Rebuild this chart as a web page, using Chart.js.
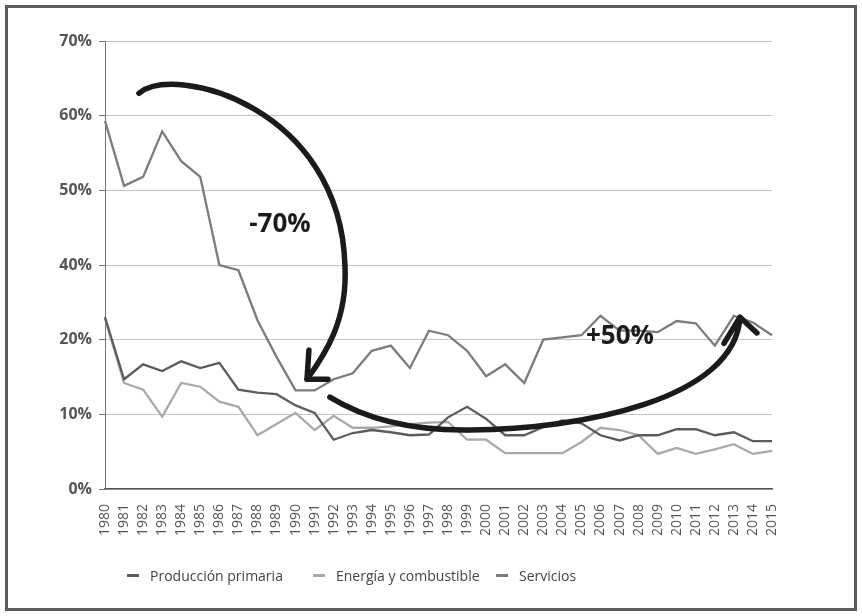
<!DOCTYPE html>
<html>
<head>
<meta charset="utf-8">
<script src="https://cdn.jsdelivr.net/npm/chart.js@4.4.1/dist/chart.umd.min.js"></script>
<style>
  html, body { margin: 0; padding: 0; background: #fff; }
  #wrap { position: relative; width: 862px; height: 616px; }
  #frame { position: absolute; left: 5px; top: 5px; width: 846px; height: 600px; border: 3px solid #5a5a5a; pointer-events: none; }
  #legend { position: absolute; left: 127px; top: 566px; display: flex; font: 14px "Open Sans", sans-serif; color: #444; }
  .item { display: flex; align-items: center; }
  .item i { display: inline-block; width: 12px; height: 3px; margin-right: 11px; }
</style>
</head>
<body>
<div id="wrap">
  <canvas id="chart" width="862" height="616"></canvas>
  <div id="frame"></div>
  <div id="legend"></div>
</div>
<script>
const years = ['1980', '1981', '1982', '1983', '1984', '1985', '1986', '1987', '1988', '1989',
  '1990', '1991', '1992', '1993', '1994', '1995', '1996', '1997', '1998', '1999',
  '2000', '2001', '2002', '2003', '2004', '2005', '2006', '2007', '2008', '2009',
  '2010', '2011', '2012', '2013', '2014', '2015'];

// valores en unidades del eje (las etiquetas impresas saltan el 30%)
const produccion = [23.0, 14.7, 16.7, 15.8, 17.1, 16.2, 16.9, 13.3, 12.9, 12.7, 11.2, 10.2,
  6.6, 7.5, 7.9, 7.6, 7.2, 7.3, 9.6, 11.0, 9.4, 7.2, 7.2, 8.3,
  9.2, 8.8, 7.2, 6.5, 7.2, 7.2, 8.0, 8.0, 7.2, 7.6, 6.4, 6.4];
const energia = [22.8, 14.2, 13.3, 9.7, 14.2, 13.7, 11.7, 11.0, 7.2, 8.7, 10.2, 7.9,
  9.8, 8.2, 8.2, 8.4, 8.7, 8.9, 9.0, 6.6, 6.6, 4.8, 4.8, 4.8,
  4.8, 6.3, 8.2, 7.9, 7.2, 4.7, 5.5, 4.7, 5.3, 6.0, 4.7, 5.1];
const servicios = [49.3, 40.6, 41.8, 47.9, 43.9, 41.8, 30.0, 29.3, 22.6, 17.7, 13.2, 13.2,
  14.7, 15.5, 18.5, 19.2, 16.2, 21.2, 20.6, 18.5, 15.1, 16.7, 14.2, 20.0,
  20.3, 20.6, 23.2, 21.2, 21.2, 21.0, 22.5, 22.2, 19.2, 23.2, 22.3, 20.6];

const yTickLabels = ['0%', '10%', '20%', '40%', '50%', '60%', '70%'];
const seriesNames = ['Producción primaria', 'Energía y combustible', 'Servicios'];
const seriesColors = ['#5c5c5c', '#a9a9a9', '#7c7c7c'];

// flechas: curvas de Bézier en unidades de datos (índice de año, valor)
const arrowDown = [[1.78, 53.0], [3.67, 57.0], [12.33, 51.2], [12.59, 30.0],
  [12.75, 22.6], [11.54, 18.0], [10.60, 14.7]];
const arrowDownHead = [[10.70, 18.6], [10.60, 14.7], [11.70, 14.7]];
const arrowUp = [[11.80, 12.3], [13.90, 9.0], [16.53, 7.8], [19.15, 7.9],
  [24.92, 8.0], [33.05, 11.9], [33.32, 23.0]];
const arrowUpHead = [[32.48, 19.5], [33.32, 23.0], [34.21, 20.9]];
const notes = [['-70%', 9.18, 35.4], ['+50%', 27.02, 20.4]];

const annotate = {
  id: 'annotate',
  afterDatasetsDraw(chart) {
    const { ctx, scales: { x, y } } = chart;
    const px = p => [x.getPixelForValue(p[0]), y.getPixelForValue(p[1])];
    ctx.save();
    ctx.strokeStyle = '#1b1b1b';
    ctx.lineWidth = 5.5;
    ctx.lineCap = 'round';
    ctx.lineJoin = 'round';

    const bezier = pts => {
      const p = pts.map(px);
      ctx.beginPath();
      ctx.moveTo(p[0][0], p[0][1]);
      for (let i = 1; i + 2 < p.length; i += 3) {
        ctx.bezierCurveTo(p[i][0], p[i][1], p[i + 1][0], p[i + 1][1], p[i + 2][0], p[i + 2][1]);
      }
      ctx.stroke();
    };
    const poly = pts => {
      const p = pts.map(px);
      ctx.beginPath();
      ctx.moveTo(p[0][0], p[0][1]);
      p.slice(1).forEach(q => ctx.lineTo(q[0], q[1]));
      ctx.stroke();
    };

    bezier(arrowDown);
    poly(arrowDownHead);
    bezier(arrowUp);
    poly(arrowUpHead);

    ctx.fillStyle = '#1b1b1b';
    ctx.font = 'bold 26px "Open Sans", sans-serif';
    ctx.textAlign = 'center';
    ctx.textBaseline = 'middle';
    notes.forEach(([t, vx, vy]) => {
      const [cx, cy] = px([vx, vy]);
      ctx.fillText(t, cx, cy);
    });
    ctx.restore();
  }
};

const seriesData = [produccion, energia, servicios];

new Chart(document.getElementById('chart'), {
  type: 'line',
  data: {
    labels: years,
    datasets: seriesNames.map((name, i) => ({
      label: name,
      data: seriesData[i],
      borderColor: seriesColors[i],
      backgroundColor: seriesColors[i],
      borderWidth: 2.3,
      pointRadius: 0,
      tension: 0,
      fill: false,
    })),
  },
  options: {
    responsive: false,
    animation: false,
    layout: { padding: { top: 41, right: 90, left: 0, bottom: 0 } },
    plugins: { legend: { display: false }, tooltip: { enabled: false } },
    scales: {
      x: {
        grid: { display: false },
        border: { color: '#555', width: 1.5 },
        ticks: {
          minRotation: 90, maxRotation: 90, autoSkip: false, padding: 7,
          color: '#555', font: { family: 'Open Sans', size: 14 },
        },
        afterFit(s) { s.height = 127; },
      },
      y: {
        min: 0, max: 60,
        ticks: {
          stepSize: 10, padding: 7,
          callback: (v, i) => yTickLabels[i],
          color: '#555', font: { family: 'Open Sans', size: 16, weight: 'bold' },
        },
        grid: { color: '#c6c6c6', tickColor: '#777', tickLength: 6, lineWidth: 1 },
        border: { color: '#777', width: 1 },
        afterFit(s) { s.width = 105; },
      },
    },
  },
  plugins: [annotate],
});

// leyenda
const legend = document.getElementById('legend');
const itemWidths = [186, 183, 0];
seriesNames.forEach((name, i) => {
  const el = document.createElement('span');
  el.className = 'item';
  if (itemWidths[i]) el.style.minWidth = itemWidths[i] + 'px';
  el.innerHTML = `<i style="background:${seriesColors[i]}"></i>${name}`;
  legend.appendChild(el);
});
</script>
</body>
</html>
